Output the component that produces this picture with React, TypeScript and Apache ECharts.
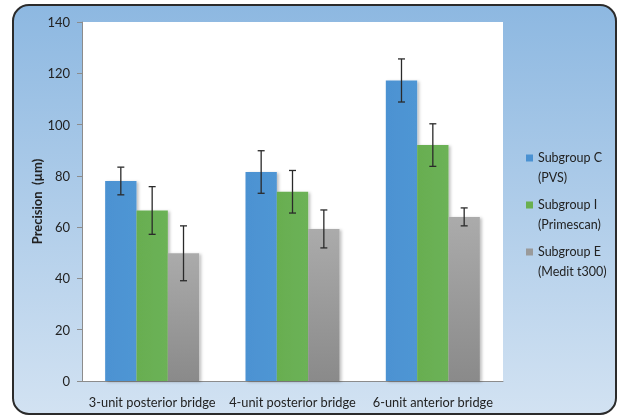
import React, { useEffect, useRef } from "react";
import * as echarts from "echarts";

const categories = ["3-unit posterior bridge", "4-unit posterior bridge", "6-unit anterior bridge"];
const seriesNames = ["Subgroup C\n(PVS)", "Subgroup I\n(Primescan)", "Subgroup E\n(Medit t300)"];
const meanC = [78, 81.5, 117.2];
const sdC = [5.4, 8.3, 8.4];
const meanI = [66.5, 73.8, 92];
const sdI = [9.3, 8.3, 8.3];
const meanE = [49.8, 59.3, 64];
const sdE = [10.7, 7.4, 3.5];
const yTicks = [0, 20, 40, 60, 80, 100, 120, 140];

const FONT = "Lato";

export default function App() {
  const ref = useRef<HTMLDivElement>(null);
  useEffect(() => {
    if (!ref.current) return;
    const chart = echarts.init(ref.current, null, { renderer: "svg" });
    const means = [meanC, meanI, meanE];
    const sds = [sdC, sdI, sdE];
    const colors: any[] = [
      new echarts.graphic.LinearGradient(0, 0, 1, 0, [
        { offset: 0, color: "#4c92d2" },
        { offset: 1, color: "#4f96d4" },
      ]),
      new echarts.graphic.LinearGradient(0, 0, 1, 0, [
        { offset: 0, color: "#68ae50" },
        { offset: 1, color: "#6cb257" },
      ]),
      new echarts.graphic.LinearGradient(0, 0, 0, 1, [
        { offset: 0, color: "#ababab" },
        { offset: 1, color: "#8a8a8a" },
      ]),
    ];
    const legendColors = ["#4a91d2", "#6ab04f", "#9a9a9a"];
    const errData: number[][] = [];
    means.forEach((m, s) =>
      m.forEach((v, c) => errData.push([c, v - sds[s][c], v + sds[s][c], s]))
    );
    const option: any = {
      animation: false,
      graphic: [
        {
          type: "rect",
          z: -10,
          silent: true,
          shape: { x: 13, y: 5, width: 603, height: 409, r: 16 },
          style: {
            fill: new echarts.graphic.LinearGradient(0, 0, 0, 1, [
              { offset: 0, color: "#8db8e1" },
              { offset: 1, color: "#d2e2f2" },
            ]),
            stroke: "#2b2b2b",
            lineWidth: 2,
          },
        },
      ],
      grid: {
        left: 82,
        top: 22,
        right: 115,
        bottom: 36,
        show: true,
        backgroundColor: "#ffffff",
        borderWidth: 0,
      },
      legend: {
        orient: "vertical",
        left: 521,
        top: 143,
        itemGap: 8,
        itemWidth: 7,
        itemHeight: 26,
        icon: "path://M0,0H7V7H0Z M0,26H0.01V26.01H0Z",
        textStyle: { fontFamily: FONT, fontSize: 12.5, color: "#222", lineHeight: 19.5 },
        data: seriesNames.map((n, i) => ({ name: n, itemStyle: { color: legendColors[i] } })),
      },
      xAxis: {
        type: "category",
        data: categories,
        axisLine: { lineStyle: { color: "#8c8c8c", width: 1 } },
        axisTick: { show: false },
        axisLabel: { fontFamily: FONT, fontSize: 12.8, color: "#222", margin: 14, interval: 0 },
      },
      yAxis: {
        type: "value",
        min: 0,
        max: 140,
        interval: 20,
        name: "Precision  (µm)",
        nameLocation: "middle",
        nameGap: 39,
        nameMoveOverlap: false,
        nameTextStyle: { fontFamily: FONT, fontSize: 13, fontWeight: "bold", color: "#222" },
        axisLine: { show: true, lineStyle: { color: "#8c8c8c", width: 1 } },
        axisTick: { show: true, length: 5, lineStyle: { color: "#8c8c8c" } },
        axisLabel: {
          fontFamily: FONT,
          fontSize: 13,
          color: "#222",
          margin: 12,
          formatter: (v: number) => (yTicks.includes(v) ? String(v) : ""),
        },
        splitLine: { show: false },
      },
      series: [
        ...means.map((m, i) => ({
          type: "bar",
          name: seriesNames[i],
          data: m,
          barGap: "0%",
          barCategoryGap: "33%",
          itemStyle: {
            color: colors[i],
            shadowBlur: 3,
            shadowOffsetX: 2,
            shadowOffsetY: 1,
            shadowColor: "rgba(0,0,0,0.25)",
          },
        })),
        {
          type: "custom",
          name: "err",
          z: 10,
          data: errData,
          encode: { x: 0, y: [1, 2] },
          renderItem: (params: any, api: any) => {
            const ci = api.value(0);
            const s = api.value(3);
            const lo = api.coord([ci, api.value(1)]);
            const hi = api.coord([ci, api.value(2)]);
            const band = api.size([1, 0])[0];
            const bw = (band * 0.67) / 3;
            const x = lo[0] + (s - 1) * bw;
            const cap = 3.5;
            const st = { stroke: "#2a2a2a", lineWidth: 1.3 };
            return {
              type: "group",
              children: [
                { type: "line", shape: { x1: x, y1: lo[1], x2: x, y2: hi[1] }, style: st },
                { type: "line", shape: { x1: x - cap, y1: lo[1], x2: x + cap, y2: lo[1] }, style: st },
                { type: "line", shape: { x1: x - cap, y1: hi[1], x2: x + cap, y2: hi[1] }, style: st },
              ],
            };
          },
        },
      ],
    };
    chart.setOption(option);
    return () => chart.dispose();
  }, []);
  return (
    <div
      ref={ref}
      style={{ position: "fixed", left: 0, top: 0, width: 618, height: 417 }}
    />
  );
}
